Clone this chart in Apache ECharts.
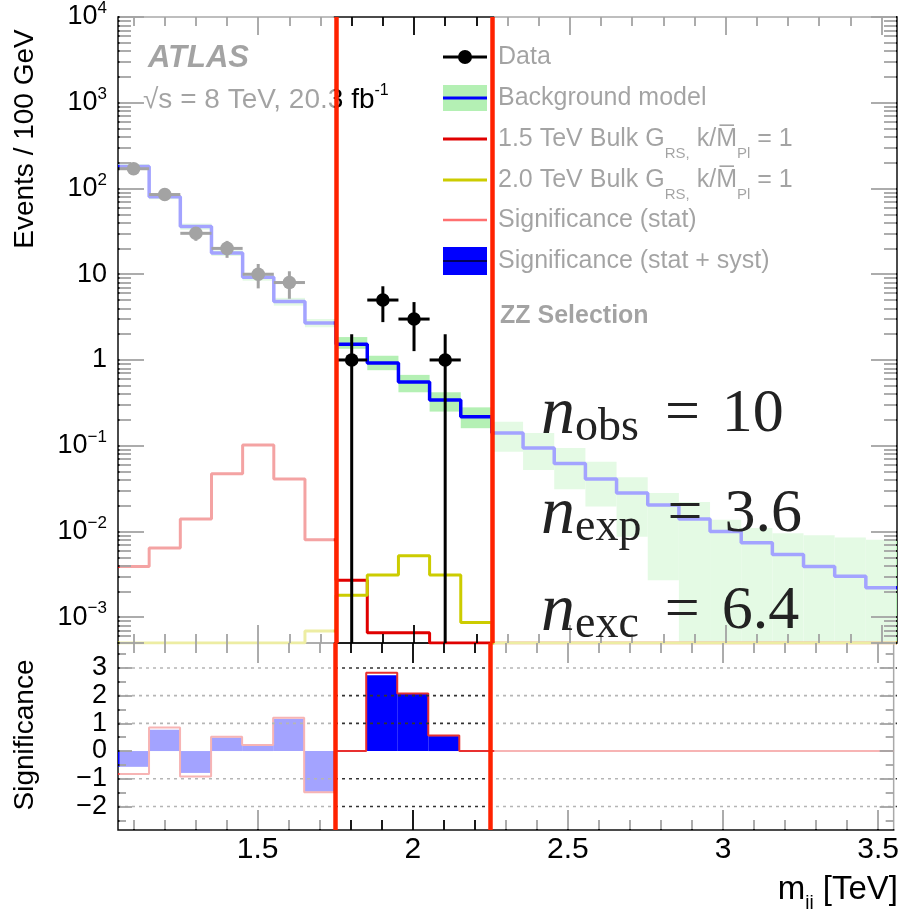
<!DOCTYPE html>
<html><head><meta charset="utf-8">
<script src="https://cdn.jsdelivr.net/npm/echarts@6/dist/echarts.min.js"></script>
<style>html,body{margin:0;padding:0;background:#fff}#c{width:902px;height:909px}</style>
</head><body><div id="c"></div>
<script>
// ---------------- data ----------------
const binCenters = [1.1,1.2,1.3,1.4,1.5,1.6,1.7,1.8,1.9,2.0,2.1,2.2,2.3,2.4,2.5,2.6,2.7,2.8,2.9,3.0,3.1,3.2,3.3,3.4,3.5];
const dataCounts = [170,85,30,20,10,8,0,1,5,3,1,0,0,0,0,0,0,0,0,0,0,0,0,0,0];
const bkgModel = [181,80,36,17.7,9.2,4.8,2.7,1.53,0.92,0.555,0.342,0.218,0.141,0.094,0.062,0.041,0.028,0.0204,0.014,0.010,0.0074,0.0054,0.0039,0.0030,0.0022];
const bkgLow  = [170,75,33,16.3,8.4,4.3,2.4,1.35,0.76,0.42,0.25,0.16,0.085,0.052,0.031,0.0195,0.0087,0.0027,0.0005,0.0005,0.0005,0.0005,0.0005,0.0005,0.0005];
const bkgHigh = [192,85,39,19,10,5.3,3.0,1.85,1.12,0.67,0.42,0.28,0.19,0.141,0.094,0.065,0.043,0.028,0.022,0.0137,0.011,0.0095,0.009,0.0085,0.008];
const sig15TeV = [0.0039,0.0064,0.014,0.047,0.102,0.041,0.008,0.0027,0.00066,0.00066,0.0005,0.0005,0.0005,0.0005,0.0005,0.0005,0.0005,0.0005,0.0005,0.0005,0.0005,0.0005,0.0005,0.0005,0.0005];
const sig20TeV = [0.0005,0.0005,0.0005,0.0005,0.0005,0.0005,0.00069,0.0018,0.0031,0.0052,0.0031,0.00087,0.0005,0.0005,0.0005,0.0005,0.0005,0.0005,0.0005,0.0005,0.0005,0.0005,0.0005,0.0005,0.0005];
const signifStatSyst = [-0.57,0.77,-0.79,0.49,0.22,1.17,-1.47,0,2.74,2.06,0.54,0,0,0,0,0,0,0,0,0,0,0,0,0,0];
const signifStat     = [-0.83,0.85,-0.92,0.52,0.22,1.2,-1.49,0,2.83,2.08,0.56,0,0,0,0,0,0,0,0,0,0,0,0,0,0];
const windowEdges = [1.75, 2.25];
const xTickLabels = [1.5, 2, 2.5, 3, 3.5];
const xMinorTicks = [1.1,1.2,1.3,1.4,1.6,1.7,1.8,1.9,2.1,2.2,2.3,2.4,2.6,2.7,2.8,2.9,3.1,3.2,3.3,3.4];
const ySigLabels = [-2,-1,0,1,2,3];
const ySigMinor = [-2.5,-1.5,-0.5,0.5,1.5,2.5,3.5];
const binHalf = 0.05;
const X_MIN = 1.05, X_MAX = 3.55, Y_MIN = 5e-4, Y_MAX = 1e4, S_MIN = -2.85, S_MAX = 3.9;

function steps(vals) {
  const out = [];
  binCenters.forEach((c, i) => { out.push([+(c - binHalf).toFixed(3), vals[i]], [+(c + binHalf).toFixed(3), vals[i]]); });
  return out;
}

const FONT = '"Liberation Sans", Arial, Helvetica, sans-serif';
const SERIF = '"Liberation Serif", "DejaVu Serif", serif';
const tickStyle = () => ({ color: '#000', width: 1.8 });
const noLine = () => ({ show: false, onZero: false });

// tick-only helper axes (ROOT style: inward ticks on all four sides)
function xTickAxis(grid, pos, values, len) {
  return { type: 'value', gridIndex: grid, position: pos, z: 7, min: X_MIN, max: X_MAX, axisLabel: { show: false }, axisLine: noLine(), splitLine: { show: false },
    axisTick: { show: true, inside: true, length: len, customValues: values, lineStyle: tickStyle() } };
}
function ySigTickAxis(pos, values, len) {
  return { type: 'value', gridIndex: 1, position: pos, z: 7, min: S_MIN, max: S_MAX, axisLabel: { show: false }, axisLine: noLine(), splitLine: { show: false },
    axisTick: { show: true, inside: true, length: len, customValues: values, lineStyle: tickStyle() } };
}

const chart = echarts.init(document.getElementById('c'), null, { renderer: 'canvas' });

const option = {
  animation: false,
  backgroundColor: '#fff',
  grid: [
    { left: 118, right: 5, top: 16, height: 627, show: true, borderColor: '#111', borderWidth: 1.5 },
    { left: 118, right: 5, top: 643, height: 187, show: true, borderColor: '#111', borderWidth: 1.5 }
  ],
  xAxis: [
    { type: 'value', gridIndex: 0, position: 'bottom', z: 7, min: X_MIN, max: X_MAX, axisLabel: { show: false }, axisLine: noLine(), splitLine: { show: false },
      axisTick: { show: true, inside: true, length: 18, customValues: xTickLabels, lineStyle: tickStyle() } },
    { type: 'value', gridIndex: 1, position: 'bottom', z: 7, min: X_MIN, max: X_MAX, axisLine: noLine(), splitLine: { show: false },
      axisTick: { show: true, inside: true, length: 20, customValues: xTickLabels, lineStyle: tickStyle() },
      axisLabel: { customValues: xTickLabels, fontSize: 30, fontFamily: FONT, color: '#000', margin: 5, formatter: v => String(v), showMinLabel: true, showMaxLabel: true } },
    xTickAxis(0, 'bottom', xMinorTicks, 9),
    xTickAxis(0, 'top', xTickLabels, 18),
    xTickAxis(0, 'top', xMinorTicks, 9),
    xTickAxis(1, 'bottom', xMinorTicks, 10),
    xTickAxis(1, 'top', xTickLabels, 20),
    xTickAxis(1, 'top', xMinorTicks, 10)
  ],
  yAxis: [
    { type: 'log', logBase: 10, gridIndex: 0, position: 'left', z: 7, min: Y_MIN, max: Y_MAX, axisLine: noLine(), splitLine: { show: false },
      axisTick: { show: true, inside: true, length: 26, lineStyle: tickStyle() },
      minorTick: { show: true, splitNumber: 9, length: 13, lineStyle: tickStyle() },
      axisLabel: {
        interval: 0, margin: 11, fontFamily: FONT, color: '#000',
        formatter: function (v) {
          const e = Math.log10(v), r = Math.round(e);
          if (Math.abs(e - r) > 1e-6) return '';
          if (r === 0) return '{b|1}';
          if (r === 1) return '{b|10}';
          return '{b|10}{s|' + (r < 0 ? '\u2212' + (-r) : r) + '}';
        },
        rich: { b: { fontSize: 27, lineHeight: 34, fontFamily: FONT, color: '#000' }, s: { fontSize: 17, lineHeight: 18, verticalAlign: 'top', fontFamily: FONT, color: '#000' } }
      } },
    { type: 'value', gridIndex: 1, position: 'left', z: 7, min: S_MIN, max: S_MAX, axisLine: noLine(), splitLine: { show: false },
      axisTick: { show: true, inside: true, length: 14, customValues: ySigLabels, lineStyle: tickStyle() },
      axisLabel: { customValues: ySigLabels, fontSize: 27, fontFamily: FONT, color: '#000', margin: 11, formatter: v => (v < 0 ? '\u2212' + (-v) : String(v)) } },
    { type: 'log', logBase: 10, gridIndex: 0, position: 'right', z: 7, min: Y_MIN, max: Y_MAX, axisLine: noLine(), splitLine: { show: false }, axisLabel: { show: false },
      axisTick: { show: true, inside: true, length: 26, lineStyle: tickStyle() },
      minorTick: { show: true, splitNumber: 9, length: 13, lineStyle: tickStyle() } },
    ySigTickAxis('right', ySigLabels, 14),
    ySigTickAxis('left', ySigMinor, 8),
    ySigTickAxis('right', ySigMinor, 8)
  ],
  series: [
    { type: 'custom', name: 'band', xAxisIndex: 0, yAxisIndex: 0, z: 1, clip: true, silent: true,
      data: binCenters.map((c, i) => [c, bkgLow[i], bkgHigh[i]]),
      encode: { x: 0, y: [1, 2] },
      renderItem: function (params, api) {
        const c = api.value(0), lo = api.value(1), hi = api.value(2);
        const p1 = api.coord([c - binHalf, hi]), p2 = api.coord([c + binHalf, lo]);
        return { type: 'rect', shape: { x: p1[0], y: p1[1], width: p2[0] - p1[0], height: p2[1] - p1[1] }, style: { fill: '#b4f0b4' } };
      } },
    { type: 'line', name: 'Background model', xAxisIndex: 0, yAxisIndex: 0, z: 3, data: steps(bkgModel), showSymbol: false, symbol: 'none', lineStyle: { color: '#0000ff', width: 3.5 }, clip: true, silent: true },
    { type: 'line', name: '1.5 TeV', xAxisIndex: 0, yAxisIndex: 0, z: 3, data: steps(sig15TeV), symbol: 'none', lineStyle: { color: '#e00000', width: 3 }, clip: true, silent: true },
    { type: 'line', name: '2.0 TeV', xAxisIndex: 0, yAxisIndex: 0, z: 3, data: steps(sig20TeV), symbol: 'none', lineStyle: { color: '#cccc00', width: 3 }, clip: true, silent: true },
    { type: 'custom', name: 'Data', xAxisIndex: 0, yAxisIndex: 0, z: 5, clip: true, silent: true,
      data: binCenters.map((c, i) => [c, dataCounts[i]]).filter(d => d[1] > 0),
      renderItem: function (params, api) {
        const x = api.value(0), n = api.value(1);
        const c = api.coord([x, n]);
        const l = api.coord([x - binHalf, n]), r = api.coord([x + binHalf, n]);
        const e = Math.sqrt(n);
        const up = api.coord([x, n + e]), dn = api.coord([x, Math.max(n - e, 1e-7)]);
        return { type: 'group', children: [
          { type: 'line', shape: { x1: l[0], y1: c[1], x2: r[0], y2: c[1] }, style: { stroke: '#000', lineWidth: 3 } },
          { type: 'line', shape: { x1: c[0], y1: up[1], x2: c[0], y2: Math.min(dn[1], 2000) }, style: { stroke: '#000', lineWidth: 3 } },
          { type: 'circle', shape: { cx: c[0], cy: c[1], r: 6.8 }, style: { fill: '#000' } }
        ] };
      } },
    { type: 'line', name: 'windowMain', xAxisIndex: 0, yAxisIndex: 0, z: 60, data: [], silent: true,
      markLine: { z: 60, silent: true, symbol: 'none', animation: false, label: { show: false }, lineStyle: { color: '#ff2200', width: 4.5, type: 'solid' }, data: windowEdges.map(v => ({ xAxis: v })) } },

    { type: 'custom', name: 'Significance (stat + syst)', xAxisIndex: 1, yAxisIndex: 1, z: 2, clip: true, silent: true,
      data: binCenters.map((c, i) => [c, signifStatSyst[i]]),
      renderItem: function (params, api) {
        const c = api.value(0), s = api.value(1);
        if (s === 0) return null;
        const p1 = api.coord([c - binHalf, Math.max(s, 0)]), p2 = api.coord([c + binHalf, Math.min(s, 0)]);
        return { type: 'rect', shape: { x: p1[0], y: p1[1], width: p2[0] - p1[0], height: p2[1] - p1[1] }, style: { fill: '#0000ff' } };
      } },
    { type: 'line', name: 'Significance (stat)', xAxisIndex: 1, yAxisIndex: 1, z: 3, data: steps(signifStat), symbol: 'none', lineStyle: { color: '#e83030', width: 2 }, clip: true, silent: true },
    { type: 'line', name: 'windowSig', xAxisIndex: 1, yAxisIndex: 1, z: 60, data: [], silent: true,
      markLine: { z: 60, silent: true, symbol: 'none', animation: false, label: { show: false }, lineStyle: { color: '#ff2200', width: 4.5, type: 'solid' }, data: windowEdges.map(v => ({ xAxis: v })) } }
  ]
};
chart.setOption(option);

// ---- pixel helpers through the library's axes ----
const px = v => chart.convertToPixel({ xAxisIndex: 0 }, v);
const pyM = v => chart.convertToPixel({ yAxisIndex: 0 }, v);
const pyS = v => chart.convertToPixel({ yAxisIndex: 1 }, v);
const L = px(X_MIN), R = px(X_MAX);
const TM = pyM(Y_MAX), BS = pyS(S_MIN);
const xl = px(windowEdges[0]), xr = px(windowEdges[1]);
const fade = 'rgba(255,255,255,0.64)';

// dotted reference lines in the significance panel
const gridEls = ySigLabels.filter(v => v !== 0).map(v => {
  const y = pyS(v);
  return { type: 'line', z: 6, silent: true, shape: { x1: L, y1: y, x2: R, y2: y }, style: { stroke: '#333', lineWidth: 1.6, lineDash: [3, 4] } };
});

const legendY = [57, 98, 139, 180, 220, 261];
const legX = 443, legW = 44, txtX = 498;
const subRich = { t: { fontSize: 25, lineHeight: 44, fontFamily: FONT, fill: '#000' }, s: { fontSize: 15, lineHeight: 15, verticalAlign: 'bottom', fontFamily: FONT, fill: '#000' } };
const leg = (y, text, rich) => ({ type: 'text', x: txtX, y: y, z: 10, silent: true, style: rich ? { text, rich, verticalAlign: 'middle', align: 'left' } : { text, fontSize: 25, fontFamily: FONT, fill: '#000', verticalAlign: 'middle', align: 'left' } });

const nRich = {
  n: { fontSize: 68, fontStyle: 'italic', fontFamily: SERIF, fill: '#222', lineHeight: 72 },
  s: { fontSize: 46, fontFamily: SERIF, fill: '#222', lineHeight: 40, verticalAlign: 'bottom' },
  e: { fontSize: 62, fontFamily: SERIF, fill: '#222', lineHeight: 72, padding: [0, 22, 0, 26] },
  d: { fontSize: 62, fontFamily: SERIF, fill: '#222', lineHeight: 72 }
};
const nText = (y, sub, val) => ({ type: 'text', x: 541, y: y, z: 120, silent: true, style: { text: '{n|n}{s|' + sub + '}{e|=}{d|' + val + '}', rich: nRich, verticalAlign: 'top', align: 'left' } });

chart.setOption({
  graphic: gridEls.concat([
    // axis titles
    { type: 'text', x: 25, y: 139, rotation: Math.PI / 2, silent: true, style: { text: 'Events / 100 GeV', fontSize: 28, fontFamily: FONT, fill: '#000', align: 'center', verticalAlign: 'middle' } },
    { type: 'text', x: 25, y: 735, rotation: Math.PI / 2, silent: true, style: { text: 'Significance', fontSize: 28, fontFamily: FONT, fill: '#000', align: 'center', verticalAlign: 'middle' } },
    { type: 'text', x: 898, y: 890, silent: true, style: { text: '{t|m}{s|jj}{t| [TeV]}', align: 'right', verticalAlign: 'middle',
      rich: { t: { fontSize: 33, lineHeight: 44, fontFamily: FONT, fill: '#000' }, s: { fontSize: 19, lineHeight: 19, verticalAlign: 'bottom', fontFamily: FONT, fill: '#000' } } } },
    // labels inside plot
    { type: 'text', x: 148, y: 58, z: 10, silent: true, style: { text: 'ATLAS', fontSize: 31, fontWeight: 'bold', fontStyle: 'italic', fontFamily: FONT, fill: '#000', verticalAlign: 'middle' } },
    { type: 'text', x: 143, y: 100, z: 10, silent: true, style: { text: '{t|\u221As = 8 TeV, 20.3 fb}{p|-1}', verticalAlign: 'middle',
      rich: { t: { fontSize: 28, lineHeight: 34, fontFamily: FONT, fill: '#000' }, p: { fontSize: 16, lineHeight: 18, verticalAlign: 'top', fontFamily: FONT, fill: '#000' } } } },
    { type: 'text', x: 500, y: 316, z: 10, silent: true, style: { text: 'ZZ Selection', fontSize: 25, fontWeight: 'bold', fontFamily: FONT, fill: '#000', verticalAlign: 'middle' } },
    // legend markers
    { type: 'line', z: 10, silent: true, shape: { x1: legX, y1: legendY[0], x2: legX + legW, y2: legendY[0] }, style: { stroke: '#000', lineWidth: 3 } },
    { type: 'circle', z: 10, silent: true, shape: { cx: 465, cy: legendY[0], r: 7 }, style: { fill: '#000' } },
    { type: 'rect', z: 10, silent: true, shape: { x: legX, y: legendY[1] - 13, width: legW, height: 26 }, style: { fill: '#b4f0b4' } },
    { type: 'line', z: 10, silent: true, shape: { x1: legX, y1: legendY[1], x2: legX + legW, y2: legendY[1] }, style: { stroke: '#0000ff', lineWidth: 3 } },
    { type: 'line', z: 10, silent: true, shape: { x1: legX, y1: legendY[2], x2: legX + legW, y2: legendY[2] }, style: { stroke: '#e00000', lineWidth: 3 } },
    { type: 'line', z: 10, silent: true, shape: { x1: legX, y1: legendY[3], x2: legX + legW, y2: legendY[3] }, style: { stroke: '#cccc00', lineWidth: 3 } },
    { type: 'line', z: 10, silent: true, shape: { x1: legX, y1: legendY[4], x2: legX + legW, y2: legendY[4] }, style: { stroke: '#ff7070', lineWidth: 2.5 } },
    { type: 'rect', z: 10, silent: true, shape: { x: legX, y: legendY[5] - 14, width: legW, height: 28 }, style: { fill: '#0000ff' } },
    { type: 'line', z: 10, silent: true, shape: { x1: legX, y1: legendY[5], x2: legX + legW, y2: legendY[5] }, style: { stroke: '#000060', lineWidth: 2 } },
    // legend texts
    leg(legendY[0], 'Data'),
    leg(legendY[1], 'Background model'),
    leg(legendY[2], '{t|1.5 TeV Bulk G}{s|RS,}{t| k/M\u0305}{s|Pl}{t| = 1}', subRich),
    leg(legendY[3], '{t|2.0 TeV Bulk G}{s|RS,}{t| k/M\u0305}{s|Pl}{t| = 1}', subRich),
    leg(legendY[4], 'Significance (stat)'),
    leg(legendY[5], 'Significance (stat + syst)'),
    // fade overlay outside the window
    { type: 'rect', z: 50, silent: true, shape: { x: L + 1.5, y: TM - 3, width: xl - 2.3 - (L + 1.5), height: BS - 1 - (TM - 3) }, style: { fill: fade } },
    { type: 'rect', z: 50, silent: true, shape: { x: xr + 2.3, y: TM - 3, width: R - 1 - (xr + 2.3), height: BS - 1 - (TM - 3) }, style: { fill: fade } },
    // counts annotation
    nText(379, 'obs', '10'),
    nText(479, 'exp', '3.6'),
    nText(576, 'exc', '6.4')
  ])
});
</script>
</body></html>
